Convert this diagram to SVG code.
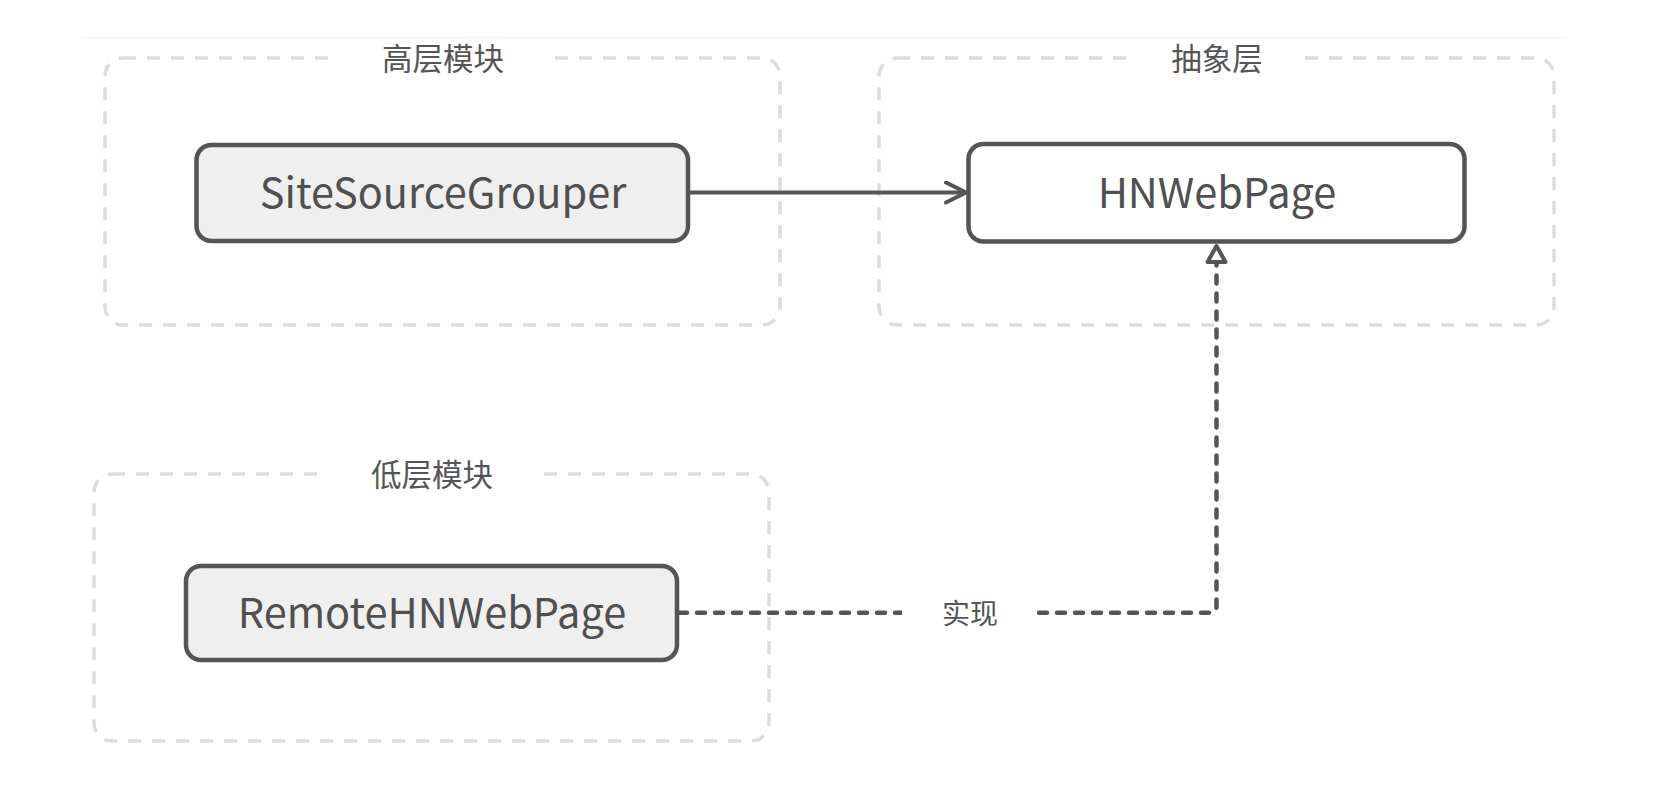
<svg xmlns="http://www.w3.org/2000/svg" width="1655" height="791" viewBox="0 0 1655 791">
  <style>
    .group { fill: none; stroke: #dcdcdc; stroke-width: 3.5; stroke-dasharray: 13 11; }
    .node { stroke: #555555; stroke-width: 4.5; }
    .filled { fill: #efefef; }
    .plain { fill: #ffffff; }
    .ntext { font-family: "Noto Sans CJK SC", "Noto Sans", sans-serif; font-size: 41.5px; fill: #505050; text-anchor: middle; }
    .gtext { font-family: "Noto Sans CJK SC", sans-serif; font-size: 30.5px; fill: #555555; text-anchor: middle; }
    .ltext { font-family: "Noto Sans CJK SC", sans-serif; font-size: 28px; fill: #555555; text-anchor: middle; }
    .mask { fill: #ffffff; }
    .solid { fill: none; stroke: #555555; stroke-width: 4; }
    .dashed { fill: none; stroke: #555555; stroke-width: 4.5; stroke-dasharray: 8 10; stroke-linecap: round; stroke-linejoin: round; }
  </style>
  <defs>
    <marker id="open" markerUnits="userSpaceOnUse" viewBox="0 0 24 24" refX="22" refY="12" markerWidth="24" markerHeight="24" orient="auto">
      <path d="M2 2 L22 12 L2 22" fill="none" stroke="#555555" stroke-width="4" stroke-linecap="round" stroke-linejoin="round"/>
    </marker>
    <marker id="tri" markerUnits="userSpaceOnUse" viewBox="0 0 26 24" refX="22" refY="12" markerWidth="26" markerHeight="24" orient="auto">
      <path d="M5 3 L21 12 L5 21 Z" fill="#ffffff" stroke="#555555" stroke-width="4" stroke-linejoin="round"/>
    </marker>
  </defs>
  <rect width="1655" height="791" fill="#ffffff"/>
  <line x1="84" y1="38" x2="1565" y2="38" stroke="#f3f3f3" stroke-width="1.5"/>

  <g id="group-high">
    <rect class="group" x="105" y="58" width="675" height="267" rx="18"/>
    <rect class="mask" x="338" y="40" width="208" height="36"/>
    <text class="gtext" x="443" y="69.5">高层模块</text>
  </g>
  <g id="group-abstract">
    <rect class="group" x="879" y="58" width="675" height="267" rx="18"/>
    <rect class="mask" x="1134" y="40" width="168" height="36"/>
    <text class="gtext" x="1217" y="69.5">抽象层</text>
  </g>
  <g id="group-low">
    <rect class="group" x="94" y="474" width="675" height="267" rx="18"/>
    <rect class="mask" x="326" y="456" width="208" height="36"/>
    <text class="gtext" x="432" y="485.5">低层模块</text>
  </g>

  <g id="connectors">
    <line class="solid" x1="688" y1="192.5" x2="966" y2="192.5" marker-end="url(#open)"/>
    <path class="dashed" d="M679 612.7 L1210 612.7 Q1216.5 612.7 1216.5 606 L1216.5 263"/>
    <path d="M1216.5 266 L1216.5 245" fill="none" stroke="none" marker-end="url(#tri)"/>
    <rect class="mask" x="902" y="595" width="135" height="36"/>
    <text class="ltext" x="970" y="623.5">实现</text>
  </g>

  <g id="node-sitesourcegrouper">
    <rect class="node filled" x="196.5" y="145" width="491.5" height="96" rx="15"/>
    <text class="ntext" x="443" y="208">SiteSourceGrouper</text>
  </g>
  <g id="node-hnwebpage">
    <rect class="node plain" x="968.5" y="144" width="496" height="97.5" rx="15"/>
    <text class="ntext" x="1217" y="208">HNWebPage</text>
  </g>
  <g id="node-remotehnwebpage">
    <rect class="node filled" x="186" y="566" width="491" height="94" rx="15"/>
    <text class="ntext" x="432" y="628">RemoteHNWebPage</text>
  </g>
</svg>
